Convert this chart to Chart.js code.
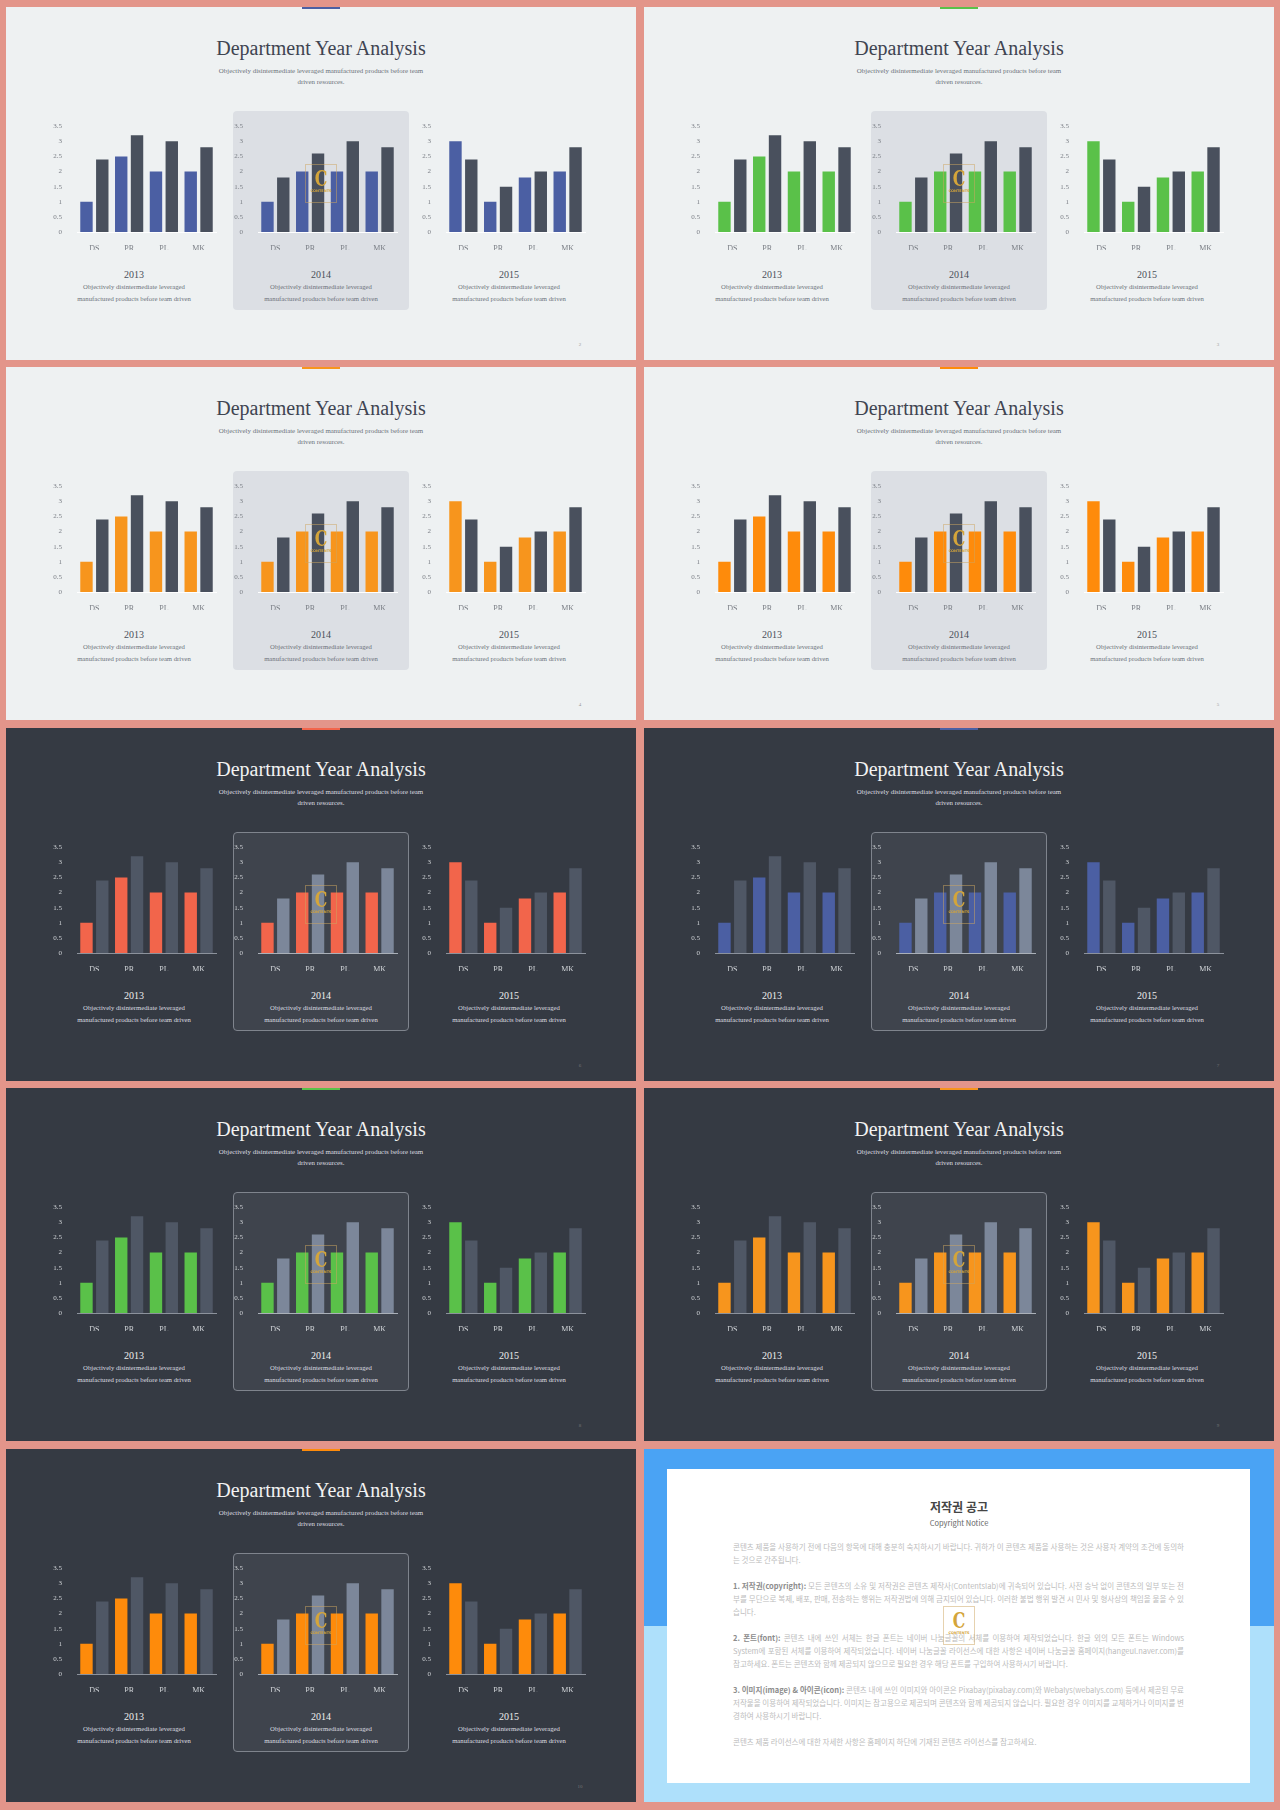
<!DOCTYPE html>
<html>
<head>
<meta charset="utf-8">
<script src="https://cdn.jsdelivr.net/npm/chart.js@4.4.1/dist/chart.umd.min.js"></script>
<style>
  body { margin: 0; background: #e3958a; }
  #page { position: relative; width: 1280px; height: 1810px; overflow: hidden; background: #e3958a; }
  .slide { position: absolute; width: 630px; height: 353px; overflow: hidden; font-family: 'Liberation Serif', serif; }
  .light { background: #eef1f2; }
  .dark { background: #353a43; }
  .topbar { position: absolute; left: 296px; top: 0; width: 38px; height: 2px; }
  .title { position: absolute; left: 0; width: 630px; top: 29px; text-align: center; font-size: 20px; line-height: 24px; }
  .sub { position: absolute; left: 0; width: 630px; top: 58px; text-align: center; font-size: 6.9px; line-height: 11px; }
  .panel { position: absolute; left: 227px; top: 104px; width: 176px; height: 199px; border-radius: 4px; box-sizing: border-box; }
  .light .panel { background: #dcdfe4; }
  .dark .panel { background: #3f444d; border: 1px solid #7f848d; }
  .slide canvas { position: absolute; }
  .year { position: absolute; width: 180px; text-align: center; top: 262px; font-size: 10px; line-height: 12px; }
  .desc { position: absolute; width: 180px; text-align: center; top: 274px; font-size: 6.7px; line-height: 11.5px; }
  .pnum { position: absolute; left: 570px; top: 335px; width: 8px; text-align: center; font-size: 5px; }
  .light .title { color: #3f4451; }
  .light .sub, .light .desc { color: #6c717a; }
  .light .year { color: #4a4f59; }
  .light .pnum { color: #999; }
  .dark .title { color: #f2f2f2; }
  .dark .sub, .dark .desc { color: #dcdde0; }
  .dark .year { color: #eeeeee; }
  .dark .pnum { color: #777; }
  .wm { position: absolute; left: 299px; top: 157px; width: 32px; height: 39px; border: 1px solid rgba(205,165,95,0.5); box-sizing: border-box; text-align: center; z-index: 5; }
  .wm b { display: block; font: bold 22px/22px 'DejaVu Serif', serif; color: #d4a53a; margin-top: 2px; transform: scaleX(0.72); }
  .wm i { display: block; font: bold 3.5px/4px 'DejaVu Sans', sans-serif; color: #d4a53a; font-style: normal; }
  .copy { background: linear-gradient(to bottom, #4aa3f4 0, #4aa3f4 177px, #aee0fb 177px); font-family: 'Noto Sans CJK KR', sans-serif; }
  .card { position: absolute; left: 23px; top: 20px; width: 583px; height: 314px; background: #ffffff; }
  .ctitle { position: absolute; left: 0; width: 630px; top: 50px; text-align: center; font-size: 12px; line-height: 16px; font-weight: bold; color: #454545; }
  .csub { position: absolute; left: 0; width: 630px; top: 68px; text-align: center; font-size: 7.5px; line-height: 11px; color: #666; }
  .ctext { position: absolute; left: 89px; top: 91px; width: 451px; font-size: 7.5px; line-height: 13px; color: #bcbcbc; text-align: justify; }
  .ctext p { margin: 0 0 13px 0; }
  .ctext b { color: #8c8c8c; }
</style>
</head>
<body>
<div id="page"></div>
<script>
const categories = ['DS', 'PR', 'PL', 'MK'];
const years = ['2013', '2014', '2015'];
const yTickLabels = ['0', '0.5', '1', '1.5', '2', '2.5', '3', '3.5'];

// colored series / grey series for each year
const accent2013 = [1, 2.5, 2, 2];
const grey2013 = [2.4, 3.2, 3.0, 2.8];
const accent2014 = [1, 2, 2, 2];
const grey2014 = [1.8, 2.6, 3.0, 2.8];
const accent2015 = [3.0, 1, 1.8, 2];
const grey2015 = [2.4, 1.5, 2.0, 2.8];

const pageNumbers = ['2', '3', '4', '5', '6', '7', '8', '9', '10'];

const accentSeries = [accent2013, accent2014, accent2015];
const greySeries = [grey2013, grey2014, grey2015];

const themes = [
    { mode: 'light', accent: '#4b5fa3' },
    { mode: 'light', accent: '#5ac149' },
    { mode: 'light', accent: '#f7951d' },
    { mode: 'light', accent: '#fe8b0b' },
    { mode: 'dark', accent: '#f2654b' },
    { mode: 'dark', accent: '#4b5fa3' },
    { mode: 'dark', accent: '#5ac149' },
    { mode: 'dark', accent: '#f7951d' },
    { mode: 'dark', accent: '#fe8b0b' }
];

const slideLeft = [6, 644];
const slideTop = [7, 367, 728, 1088, 1449];
const canvasLeft = [41, 222, 410];
const yearCenter = [128, 315, 503];

const page = document.getElementById('page');

const makeChart = (canvas, accentData, greyData, accentColor, greyColor, textColor, axisColor) => {
    new Chart(canvas.getContext('2d'), {
        type: 'bar',
        data: {
            labels: categories,
            datasets: [
                { data: accentData, backgroundColor: accentColor, categoryPercentage: 0.91, barPercentage: 0.785 },
                { data: greyData, backgroundColor: greyColor, categoryPercentage: 0.91, barPercentage: 0.785 }
            ]
        },
        options: {
            responsive: false,
            animation: false,
            layout: { padding: { top: 10, right: 6, left: 0, bottom: 0 } },
            plugins: { legend: { display: false }, tooltip: { enabled: false } },
            scales: {
                x: {
                    grid: { display: false },
                    border: { display: true, color: axisColor, width: 1 },
                    ticks: { color: textColor, font: { family: 'Liberation Serif', size: 8 }, padding: 4 },
                    afterFit: (s) => { s.height = 18; }
                },
                y: {
                    min: 0,
                    max: 3.5,
                    grid: { display: false },
                    border: { display: false },
                    ticks: {
                        stepSize: 0.5,
                        color: textColor,
                        font: { family: 'Liberation Serif', size: 7 },
                        padding: 7,
                        callback: (v, i) => yTickLabels[i]
                    },
                    afterFit: (s) => { s.width = 30; }
                }
            }
        }
    });
};

themes.forEach((theme, i) => {
    const slide = document.createElement('div');
    slide.className = 'slide ' + theme.mode;
    slide.style.left = slideLeft[i % 2] + 'px';
    slide.style.top = slideTop[Math.floor(i / 2)] + 'px';
    let html = '<div class="topbar" style="background:' + theme.accent + '"></div>';
    html += '<div class="title">Department Year Analysis</div>';
    html += '<div class="sub">Objectively disintermediate leveraged manufactured products before team<br>driven resources.</div>';
    html += '<div class="panel"></div>';
    html += '<div class="wm"><b>C</b><i>CONTENTS</i></div>';
    years.forEach((y, k) => {
        html += '<div class="year" style="left:' + (yearCenter[k] - 90) + 'px">' + y + '</div>';
        html += '<div class="desc" style="left:' + (yearCenter[k] - 90) + 'px">Objectively disintermediate leveraged<br>manufactured products before team driven</div>';
    });
    html += '<div class="pnum">' + pageNumbers[i] + '</div>';
    slide.innerHTML = html;
    page.appendChild(slide);

    const dark = theme.mode === 'dark';
    years.forEach((y, k) => {
        const c = document.createElement('canvas');
        c.width = 175;
        c.height = 135;
        c.style.left = canvasLeft[k] + 'px';
        c.style.top = '108px';
        slide.appendChild(c);
        const greyColor = dark ? (k === 1 ? '#7c879a' : '#4f5765') : '#49505d';
        const textColor = dark ? '#cfd2d6' : '#7b7f86';
        const axisColor = dark ? (k === 1 ? '#aab0b8' : '#8c929c') : '#ffffff';
        makeChart(c, accentSeries[k], greySeries[k], theme.accent, greyColor, textColor, axisColor);
    });
});

// 저작권 공고 슬라이드
const copy = document.createElement('div');
copy.className = 'slide copy';
copy.style.left = '644px';
copy.style.top = '1449px';
copy.innerHTML =
    '<div class="card"></div>' +
    '<div class="ctitle">저작권 공고</div>' +
    '<div class="csub">Copyright Notice</div>' +
    '<div class="ctext">' +
    '<p>콘텐츠 제품을 사용하기 전에 다음의 항목에 대해 충분히 숙지하시기 바랍니다. 귀하가 이 콘텐츠 제품을 사용하는 것은 사용자 계약의 조건에 동의하는 것으로 간주됩니다.</p>' +
    '<p><b>1. 저작권(copyright):</b> 모든 콘텐츠의 소유 및 저작권은 콘텐츠 제작사(Contentslab)에 귀속되어 있습니다. 사전 승낙 없이 콘텐츠의 일부 또는 전부를 무단으로 복제, 배포, 판매, 전송하는 행위는 저작권법에 의해 금지되어 있습니다. 이러한 불법 행위 발견 시 민사 및 형사상의 책임을 물을 수 있습니다.</p>' +
    '<p><b>2. 폰트(font):</b> 콘텐츠 내에 쓰인 서체는 한글 폰트는 네이버 나눔글꼴의 서체를 이용하여 제작되었습니다. 한글 외의 모든 폰트는 Windows System에 포함된 서체를 이용하여 제작되었습니다. 네이버 나눔글꼴 라이선스에 대한 사항은 네이버 나눔글꼴 홈페이지(hangeul.naver.com)를 참고하세요. 폰트는 콘텐츠와 함께 제공되지 않으므로 필요한 경우 해당 폰트를 구입하여 사용하시기 바랍니다.</p>' +
    '<p><b>3. 이미지(image) &amp; 아이콘(icon):</b> 콘텐츠 내에 쓰인 이미지와 아이콘은 Pixabay(pixabay.com)와 Webalys(webalys.com) 등에서 제공된 무료 저작물을 이용하여 제작되었습니다. 이미지는 참고용으로 제공되며 콘텐츠와 함께 제공되지 않습니다. 필요한 경우 이미지를 교체하거나 이미지를 변경하여 사용하시기 바랍니다.</p>' +
    '<p>콘텐츠 제품 라이선스에 대한 자세한 사항은 홈페이지 하단에 기재된 콘텐츠 라이선스를 참고하세요.</p>' +
    '</div>' +
    '<div class="wm"><b>C</b><i>CONTENTS</i></div>';
page.appendChild(copy);
</script>
</body>
</html>
